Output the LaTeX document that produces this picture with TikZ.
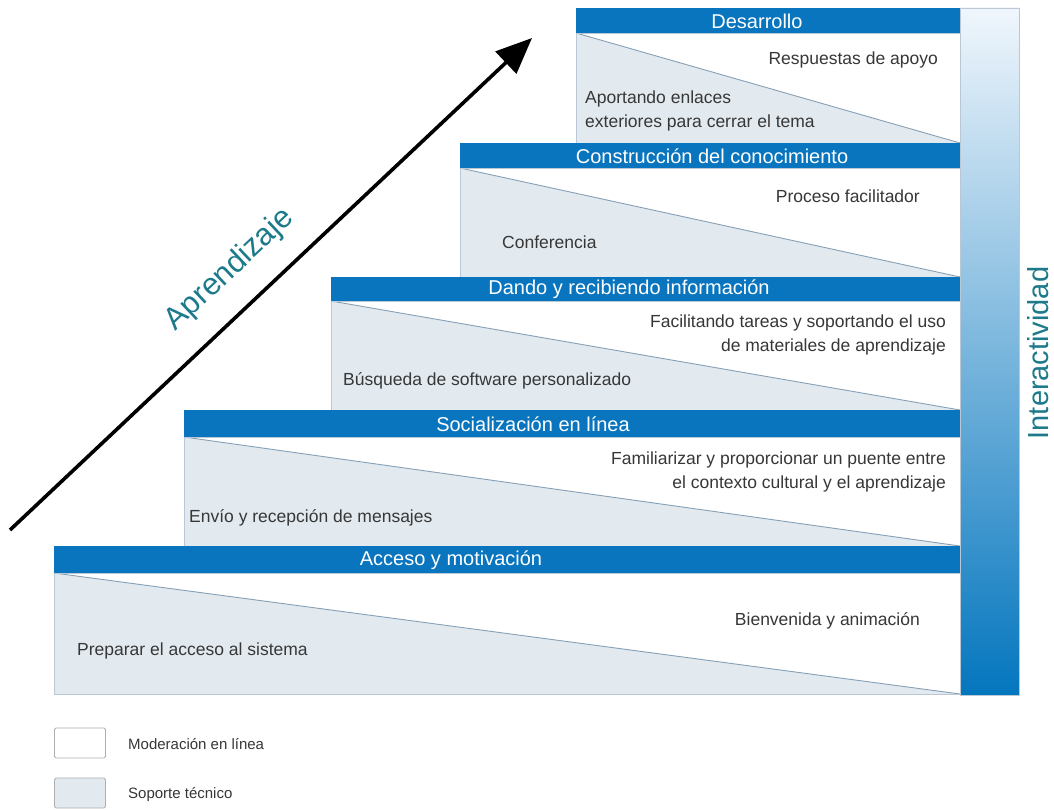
\documentclass[tikz,border=0pt]{standalone}
\usepackage{fontspec}
\setmainfont{Liberation Sans}
\usetikzlibrary{arrows.meta}

\definecolor{barblue}{RGB}{8,117,190}
\definecolor{softfill}{RGB}{226,234,240}
\definecolor{diagline}{RGB}{135,160,182}
\definecolor{boxedge}{RGB}{185,200,212}
\definecolor{bodytext}{RGB}{55,55,55}
\definecolor{tealtext}{RGB}{28,122,138}
\definecolor{gradtop}{RGB}{240,246,252}
\definecolor{gradbottom}{RGB}{4,118,190}
\definecolor{legendedge}{RGB}{170,175,180}

\tikzset{
  bodylabel/.style={text=bodytext, font=\fontsize{17.5}{20}\selectfont, inner sep=0pt},
  barlabel/.style={text=white, font=\fontsize{20}{22}\selectfont, inner sep=0pt},
  legendlabel/.style={text=bodytext, font=\fontsize{15}{18}\selectfont, inner sep=0pt, anchor=base west},
  axislabel/.style={text=tealtext, font=\fontsize{29}{32}\selectfont, inner sep=0pt},
  stairbar/.style={fill=barblue, draw=none},
  diag/.style={draw=diagline, line width=0.9pt},
}

% one step of the staircase: left x, bar top, bar bottom, box bottom
\newcommand{\stairstep}[4]{%
  \fill[white] (#1,#3) rectangle (960,#4);
  \fill[softfill] (#1,#3) -- (960,#4) -- (#1,#4) -- cycle;
  \draw[diag] (#1,#3) -- (960,#4);
  \draw[boxedge, line width=0.8pt] (#1,#3) rectangle (960,#4);
  \fill[stairbar] (#1,#2) rectangle (960,#3);
}

\begin{document}
\begin{tikzpicture}[x=1pt,y=-1pt]
  \useasboundingbox (0,0) rectangle (1054,810);
  \fill[white] (0,0) rectangle (1054,810);

  % staircase
  \stairstep{576}{8}{33}{143}
  \stairstep{460}{143}{168}{277}
  \stairstep{331}{277}{301}{410}
  \stairstep{184}{410}{437}{546}
  \stairstep{54}{546}{573}{694}

  % interactivity gradient column
  \shade[top color=gradtop, bottom color=gradbottom] (960,8) rectangle (1019,695);
  \draw[boxedge, line width=0.6pt] (960,8) rectangle (1019,695);
  \node[axislabel, rotate=90] (interact) at (1038,353) {Interactividad};

  % step titles
  \node[barlabel] (t1) at (757,21) {Desarrollo};
  \node[barlabel] (t2) at (712,156) {Construcción del conocimiento};
  \node[barlabel] (t3) at (629,289) {Dando y recibiendo información};
  \node[barlabel] (t4) at (533,424) {Socialización en línea};
  \node[barlabel] (t5) at (451,560) {Acceso y motivación};

  % texts inside the steps
  \node[bodylabel, anchor=base east] (d1) at (938,65) {Respuestas de apoyo};
  \node[bodylabel, anchor=base west] (d2) at (585,104) {Aportando enlaces};
  \node[bodylabel, anchor=base west] (d3) at (585,128) {exteriores para cerrar el tema};
  \node[bodylabel, anchor=base east] (c1) at (920,203) {Proceso facilitador};
  \node[bodylabel, anchor=base west] (c2) at (502,248) {Conferencia};
  \node[bodylabel, anchor=base east] (i1) at (946,327) {Facilitando tareas y soportando el uso};
  \node[bodylabel, anchor=base east] (i2) at (946,351) {de materiales de aprendizaje};
  \node[bodylabel, anchor=base west] (i3) at (343,385) {Búsqueda de software personalizado};
  \node[bodylabel, anchor=base east] (s1) at (946,464) {Familiarizar y proporcionar un puente entre};
  \node[bodylabel, anchor=base east] (s2) at (946,488) {el contexto cultural y el aprendizaje};
  \node[bodylabel, anchor=base west] (s3) at (189,522) {Envío y recepción de mensajes};
  \node[bodylabel, anchor=base east] (a1) at (920,625) {Bienvenida y animación};
  \node[bodylabel, anchor=base west] (a2) at (77,655) {Preparar el acceso al sistema};

  % learning axis
  \coordinate (arrowtail) at (10,530);
  \coordinate (arrowtip) at (532,38);
  \draw[line width=3.6pt, -{Triangle[length=36pt,width=30pt]}] (arrowtail) -- (arrowtip);
  \node[axislabel, font=\fontsize{31}{34}\selectfont, rotate=43.3] (learn) at (230,270) {Aprendizaje};

  % legend
  \node[draw=legendedge, fill=white, rounded corners=1.5pt, line width=0.8pt,
        minimum width=51pt, minimum height=30pt, inner sep=0pt] (keyA) at (80,743) {};
  \node[draw=legendedge, fill=softfill, rounded corners=1.5pt, line width=0.8pt,
        minimum width=51pt, minimum height=30pt, inner sep=0pt] (keyB) at (80,793) {};
  \node[legendlabel] (keyAtext) at (128,749) {Moderación en línea};
  \node[legendlabel] (keyBtext) at (128,798) {Soporte técnico};
\end{tikzpicture}
\end{document}
